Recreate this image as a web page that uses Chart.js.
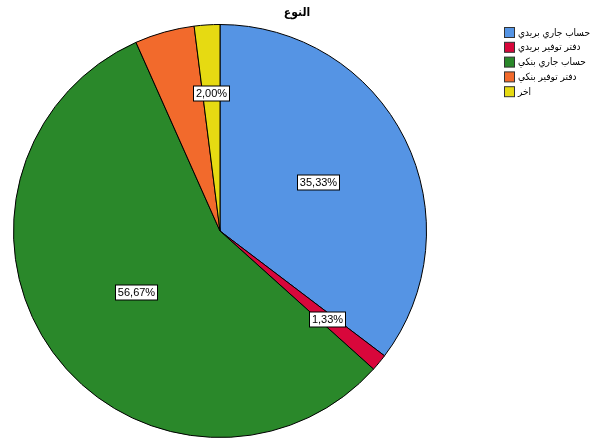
<!DOCTYPE html>
<html>
<head>
<meta charset="utf-8">
<script src="https://cdn.jsdelivr.net/npm/chart.js@4"></script>
<style>
  html, body { margin: 0; padding: 0; background: #fff; }
  #wrap { width: 593px; height: 438px; }
</style>
</head>
<body>
<div id="wrap"><canvas id="grafico"></canvas></div>
<script>
// Datos
const titulo = "النوع";
const categorias = ["حساب جاري بريدي", "دفتر توفير بريدي", "حساب جاري بنكي", "دفتر توفير بنكي", "اخر"];
const porcentajes = [35.33, 1.33, 56.67, 4.67, 2.00];
const etiquetas = ["35,33%", "1,33%", "56,67%", "", "2,00%"];

const colores = ["#5594E4", "#D8073B", "#2A882A", "#F26A2C", "#E6DA12"];
// distancia relativa al centro para cada etiqueta
const radioEtiqueta = [0.53, 0.67, 0.5, 0.6, 0.67];

// Título, leyenda y etiquetas de porcentaje
const decoracion = {
  id: "decoracion",
  afterDraw(chart) {
    const ctx = chart.ctx;
    ctx.save();
    ctx.fillStyle = "#000";
    ctx.font = "bold 12px 'DejaVu Sans Condensed'";
    ctx.textAlign = "center";
    ctx.textBaseline = "middle";
    ctx.fillText(titulo, 297, 13);

    // leyenda
    ctx.font = "10px 'DejaVu Sans Condensed'";
    ctx.textAlign = "left";
    categorias.forEach((c, i) => {
      const y = 27 + i * 14.8;
      ctx.fillStyle = colores[i];
      ctx.fillRect(504.5, y + 0.5, 10, 10);
      ctx.strokeStyle = "#333";
      ctx.lineWidth = 1;
      ctx.strokeRect(504.5, y + 0.5, 10, 10);
      ctx.fillStyle = "#000";
      ctx.fillText(c, 518, y + 6);
    });

    // etiquetas de valor
    const meta = chart.getDatasetMeta(0);
    ctx.font = "11px 'Liberation Sans'";
    ctx.textAlign = "center";
    meta.data.forEach((arc, i) => {
      if (!etiquetas[i]) return;
      const p = arc.getProps(["x", "y", "startAngle", "endAngle", "outerRadius"], true);
      const a = (p.startAngle + p.endAngle) / 2;
      const r = p.outerRadius * radioEtiqueta[i];
      const x = Math.round(p.x + Math.cos(a) * r);
      const y = Math.round(p.y + Math.sin(a) * r);
      const w = Math.ceil(ctx.measureText(etiquetas[i]).width) + 4;
      const h = 15;
      ctx.fillStyle = "#fff";
      ctx.fillRect(x - w / 2 + 0.5, y - h / 2 + 0.5, w, h);
      ctx.strokeStyle = "#000";
      ctx.strokeRect(x - w / 2 + 0.5, y - h / 2 + 0.5, w, h);
      ctx.fillStyle = "#000";
      ctx.fillText(etiquetas[i], x + 0.5, y + 1);
    });
    ctx.restore();
  }
};

new Chart(document.getElementById("grafico"), {
  type: "pie",
  data: {
    labels: categorias,
    datasets: [{
      data: porcentajes,
      backgroundColor: colores,
      borderColor: "#000",
      borderWidth: 1
    }]
  },
  options: {
    responsive: true,
    maintainAspectRatio: false,
    animation: false,
    layout: { padding: { left: 13, right: 166, top: 24, bottom: 0 } },
    plugins: {
      legend: { display: false },
      tooltip: { enabled: false }
    }
  },
  plugins: [decoracion]
});
</script>
</body>
</html>
